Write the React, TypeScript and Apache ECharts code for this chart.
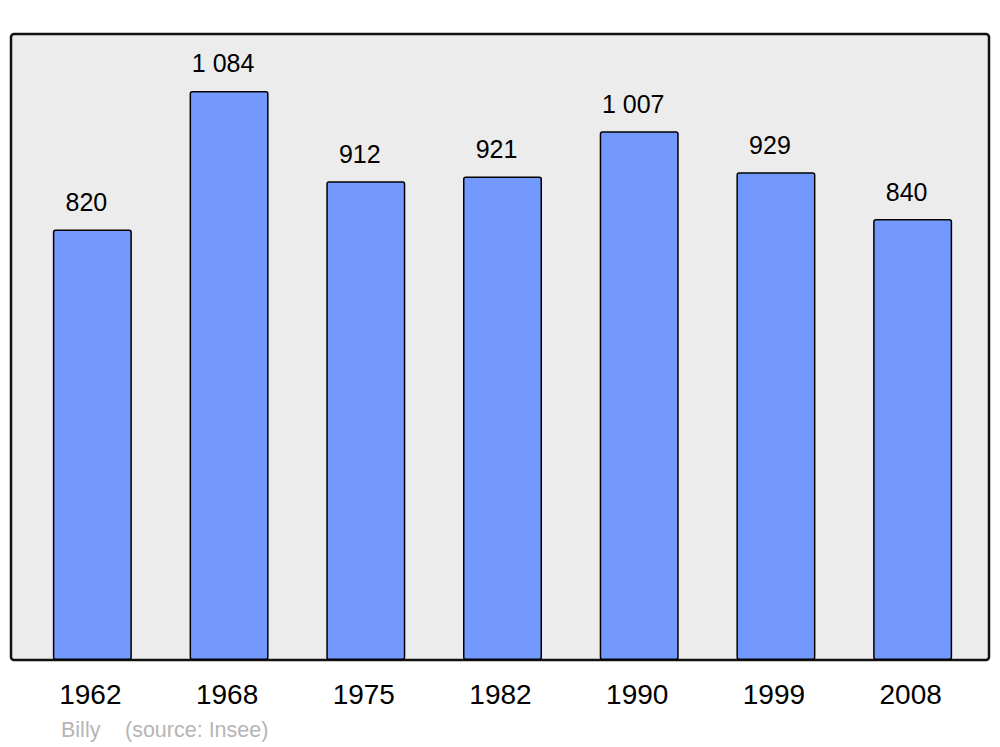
import React, { useEffect, useRef } from "react";
import * as echarts from "echarts";

const years = ["1962", "1968", "1975", "1982", "1990", "1999", "2008"];
const population = [820, 1084, 912, 921, 1007, 929, 840];
const footerPlace = "Billy";
const footerSource = "(source: Insee)";

export default function App() {
  const ref = useRef<HTMLDivElement>(null);
  useEffect(() => {
    if (!ref.current) return;
    const chart = echarts.init(ref.current, null, { renderer: "svg" });
    chart.setOption({
      animation: false,
      grid: { left: 24, right: 19, top: 34, bottom: 87 },
      xAxis: {
        type: "category",
        data: years,
        axisLine: { show: false },
        axisTick: { show: false },
        axisLabel: {
          color: "#000",
          fontSize: 28,
          fontFamily: "Liberation Sans",
          margin: 20,
          padding: [0, 4, 0, 0],
        },
      },
      yAxis: {
        type: "value",
        min: 0,
        max: 1192.4,
        show: false,
        splitLine: { show: false },
      },
      graphic: [
        {
          type: "rect",
          z: -10,
          silent: true,
          shape: { x: 11, y: 34, width: 978, height: 626, r: 3 },
          style: { fill: "#ececec", stroke: "#111", lineWidth: 2.5 },
        },
        {
          type: "text",
          x: 61,
          y: 719,
          style: {
            text: footerPlace,
            fill: "#b5b5b5",
            fontSize: 21.5,
            fontFamily: "Liberation Sans",
          },
        },
        {
          type: "text",
          x: 125,
          y: 719,
          style: {
            text: footerSource,
            fill: "#b5b5b5",
            fontSize: 21.5,
            fontFamily: "Liberation Sans",
          },
        },
      ],
      series: [
        {
          type: "bar",
          data: population,
          barWidth: 79,
          itemStyle: {
            color: "#7399ff",
            borderColor: "#000",
            borderWidth: 1.5,
            borderRadius: 2,
          },
          label: {
            show: true,
            position: "top",
            distance: 15,
            offset: [-6, 0],
            color: "#000",
            fontSize: 25,
            fontFamily: "Liberation Sans",
            formatter: (p: any) =>
              String(p.value).replace(/\B(?=(\d{3})+(?!\d))/g, " "),
          },
        },
      ],
    });
    return () => chart.dispose();
  }, []);
  return (
    <div
      ref={ref}
      style={{ position: "absolute", left: 0, top: 0, width: 1000, height: 747, background: "#fff" }}
    />
  );
}
